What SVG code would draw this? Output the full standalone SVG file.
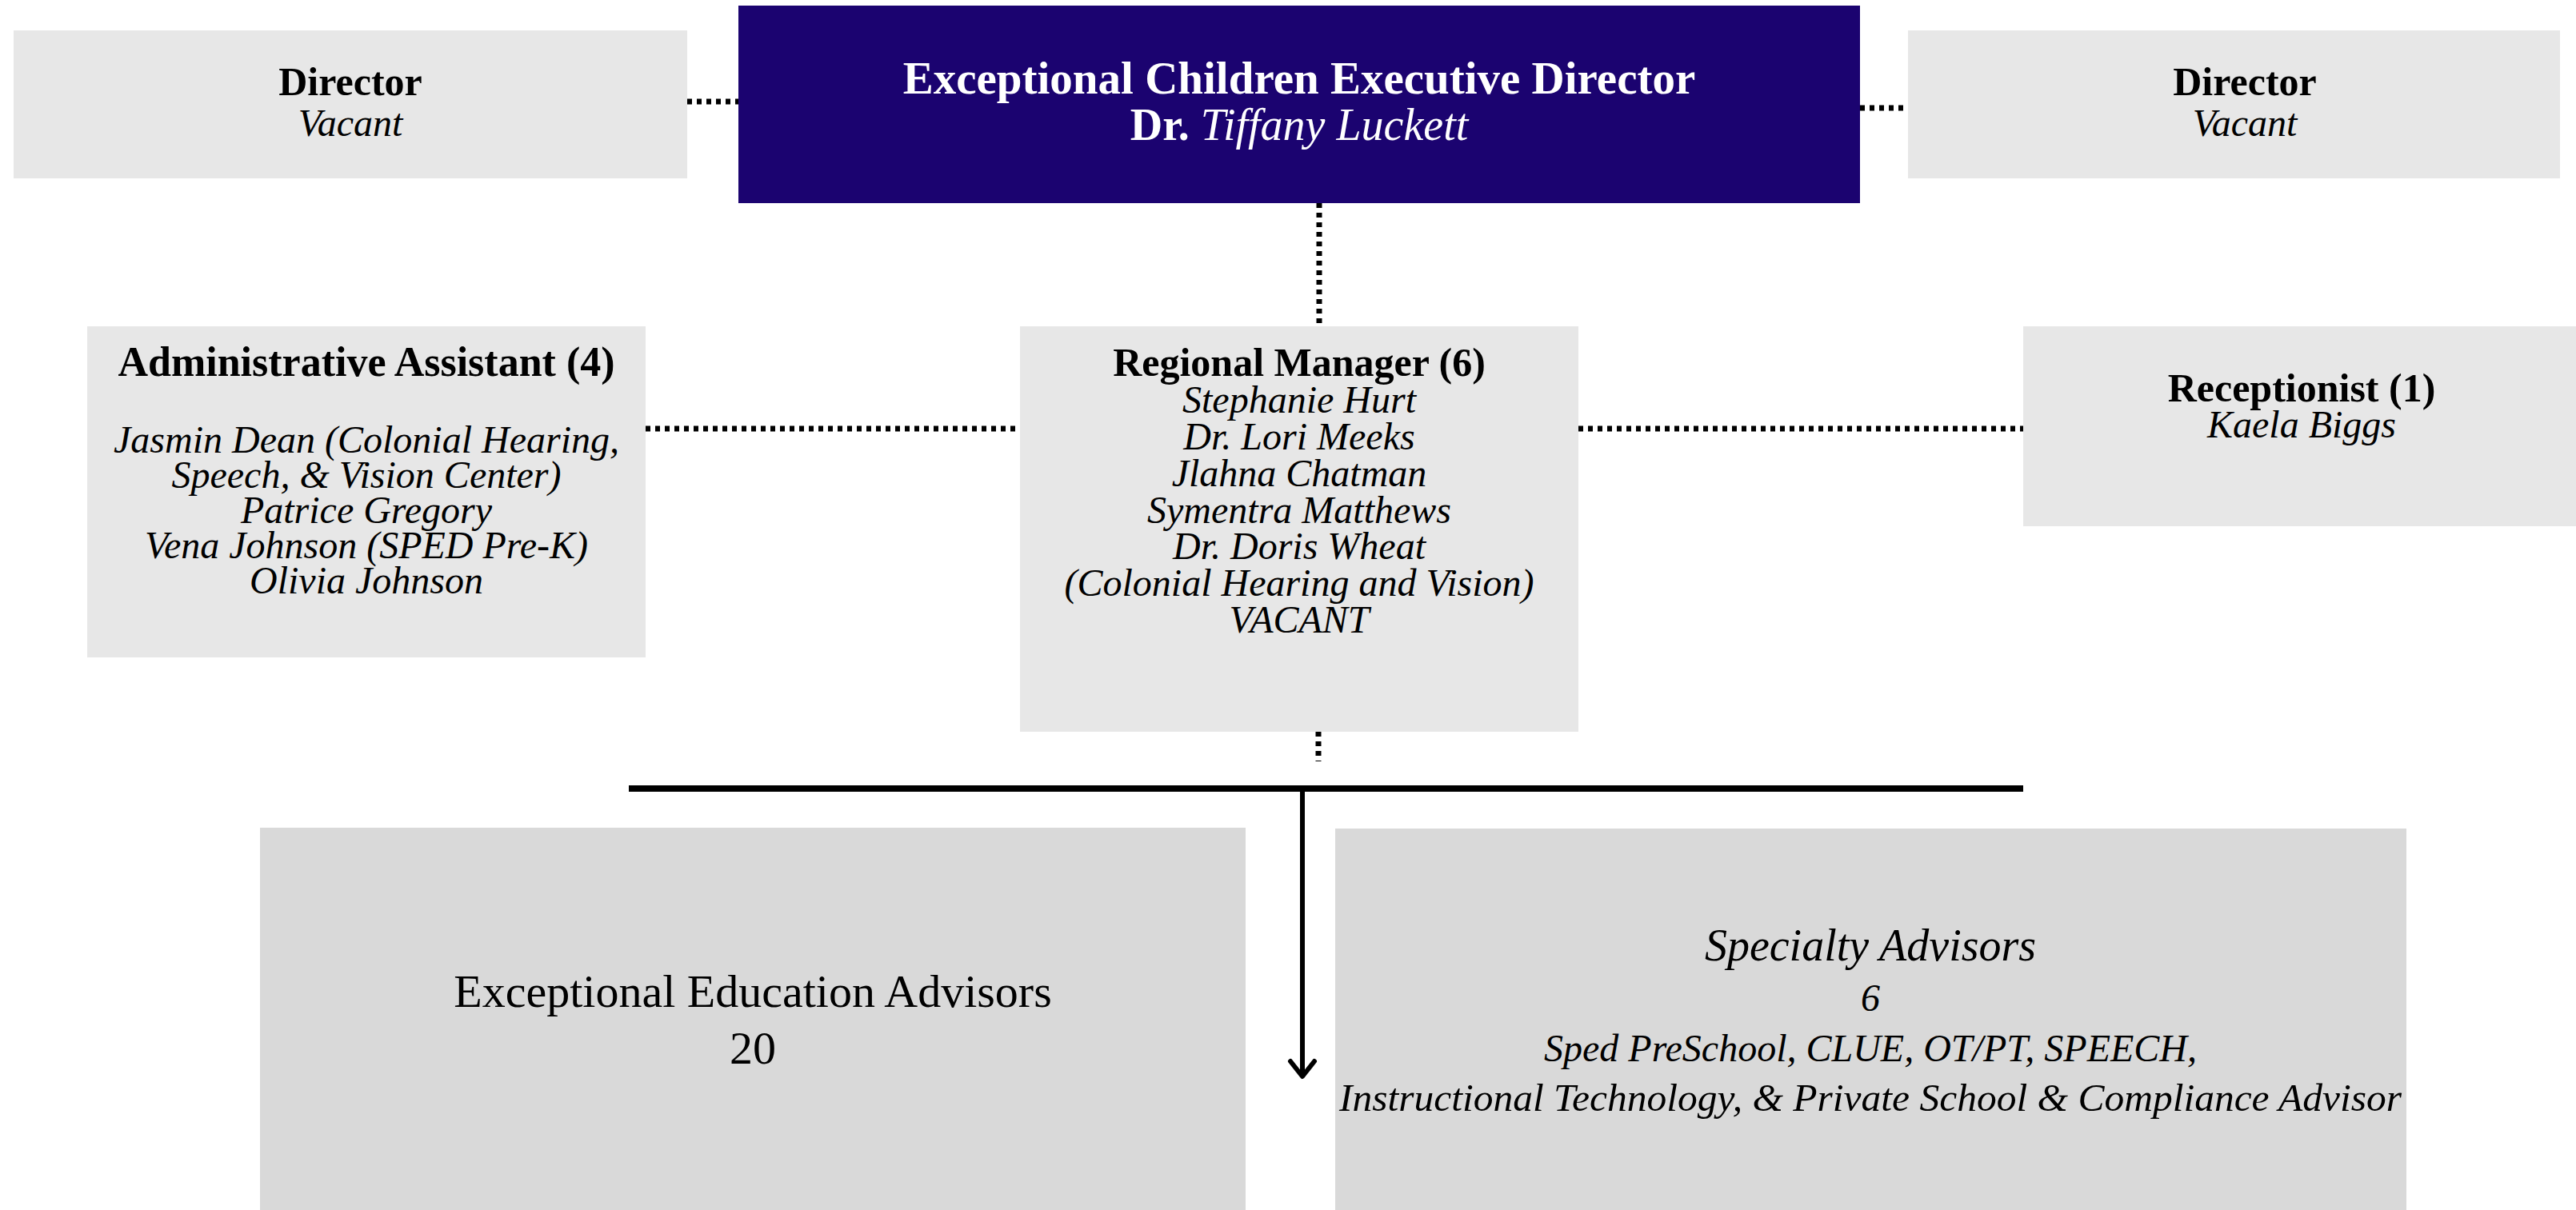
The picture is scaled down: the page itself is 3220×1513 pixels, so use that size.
<svg xmlns="http://www.w3.org/2000/svg" width="3220" height="1513" viewBox="0 0 3220 1513">
<style>
text{font-family:"Liberation Serif","Times New Roman",serif;text-anchor:middle;fill:#000}
.b{font-weight:bold;font-size:50px}
.i{font-style:italic;font-size:48px}
.w{fill:#fff}
.top{fill:#e7e7e7}
.bot{fill:#d9d9d9}
.dot{stroke:#000;stroke-width:7;stroke-dasharray:6 6;fill:none}
.solid{stroke:#000;fill:none}
</style>
<rect width="3220" height="1513" fill="#fff"/>
<g id="connectors">
<line class="dot" x1="859" y1="127" x2="923" y2="127"/>
<line class="dot" x1="2325" y1="135" x2="2385" y2="135"/>
<line class="dot" x1="1649" y1="254" x2="1649" y2="408"/>
<line class="dot" x1="807" y1="536" x2="1275" y2="536"/>
<line class="dot" x1="1973" y1="536" x2="2529" y2="536"/>
<line class="dot" x1="1648" y1="915" x2="1648" y2="952"/>
<line class="solid" x1="786" y1="986" x2="2529" y2="986" stroke-width="8"/>
<line class="solid" x1="1628" y1="986" x2="1628" y2="1345" stroke-width="6"/>
<polyline class="solid" points="1613,1327 1628,1346 1643,1327" stroke-width="6" stroke-linecap="round" stroke-linejoin="round"/>
</g>
<g id="director-left">
<rect class="top" x="17" y="38" width="842" height="185"/>
<text class="b" x="438" y="119">Director</text>
<text class="i" x="438" y="170">Vacant</text>
</g>
<g id="executive-director">
<rect x="923" y="7" width="1402" height="247" fill="#1b0370"/>
<text class="w" x="1624" y="117" style="font-weight:bold;font-size:57px">Exceptional Children Executive Director</text>
<text class="w" x="1624" y="175" style="font-size:56px"><tspan font-weight="bold">Dr.</tspan><tspan font-style="italic"> Tiffany Luckett</tspan></text>
</g>
<g id="director-right">
<rect class="top" x="2385" y="38" width="815" height="185"/>
<text class="b" x="2806" y="119">Director</text>
<text class="i" x="2806" y="170">Vacant</text>
</g>
<g id="administrative-assistant">
<rect class="top" x="109" y="408" width="698" height="414"/>
<text class="b" x="458" y="470" style="font-size:52px">Administrative Assistant (4)</text>
<text class="i" x="458" y="566">Jasmin Dean (Colonial Hearing,<tspan x="458" dy="44">Speech, &amp; Vision Center)</tspan><tspan x="458" dy="44">Patrice Gregory</tspan><tspan x="458" dy="44">Vena Johnson (SPED Pre-K)</tspan><tspan x="458" dy="44">Olivia Johnson</tspan></text>
</g>
<g id="regional-manager">
<rect class="top" x="1275" y="408" width="698" height="507"/>
<text class="b" x="1624" y="470">Regional Manager (6)</text>
<text class="i" x="1624" y="516">Stephanie Hurt<tspan x="1624" dy="46">Dr. Lori Meeks</tspan><tspan x="1624" dy="46">Jlahna Chatman</tspan><tspan x="1624" dy="46">Symentra Matthews</tspan><tspan x="1624" dy="45">Dr. Doris Wheat</tspan><tspan x="1624" dy="46">(Colonial Hearing and Vision)</tspan><tspan x="1624" dy="46">VACANT</tspan></text>
</g>
<g id="receptionist">
<rect class="top" x="2529" y="408" width="691" height="250"/>
<text class="b" x="2877" y="502">Receptionist (1)</text>
<text class="i" x="2877" y="547">Kaela Biggs</text>
</g>
<g id="exceptional-education-advisors">
<rect class="bot" x="325" y="1035" width="1232" height="478"/>
<text x="941" y="1259" style="font-size:58px">Exceptional Education Advisors</text>
<text x="941" y="1330" style="font-size:58px">20</text>
</g>
<g id="specialty-advisors">
<rect class="bot" x="1669" y="1036" width="1339" height="477"/>
<text class="i" x="2338" y="1201" style="font-size:56px">Specialty Advisors</text>
<text class="i" x="2338" y="1264">6</text>
<text class="i" x="2338" y="1327">Sped PreSchool, CLUE, OT/PT, SPEECH,</text>
<text class="i" x="2338" y="1389" style="font-size:49.5px">Instructional Technology, &amp; Private School &amp; Compliance Advisor</text>
</g>
</svg>
